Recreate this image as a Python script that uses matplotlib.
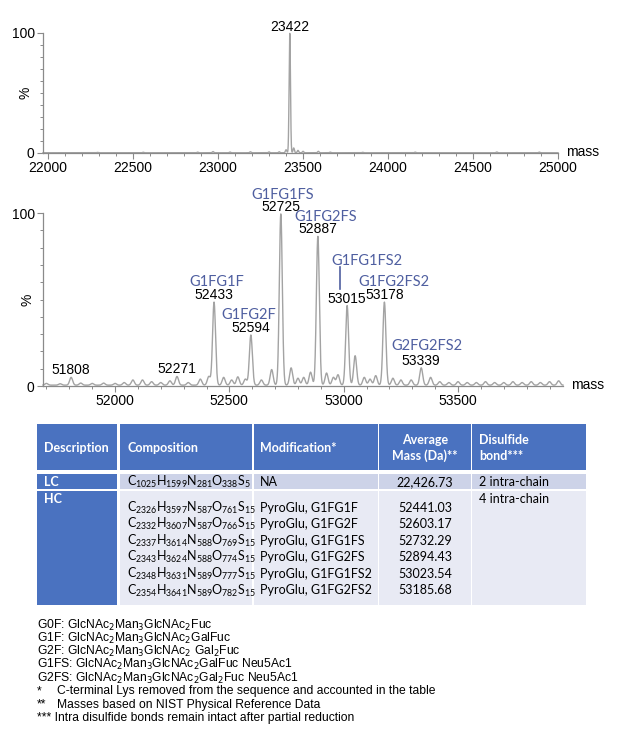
import re
import numpy as np
import matplotlib.pyplot as plt
from matplotlib.patches import Rectangle
from matplotlib.ticker import MultipleLocator, FixedLocator

plt.rcParams['font.family'] = ['Liberation Sans', 'DejaVu Sans']
plt.rcParams['mathtext.fontset'] = 'custom'
plt.rcParams['mathtext.rm'] = 'Lato'
plt.rcParams['mathtext.it'] = 'Lato:italic'
plt.rcParams['mathtext.bf'] = 'Lato:bold'

# light chain (reduced) deconvoluted spectrum: peak centroids / relative intensity (%)
lc_mass = [22290, 22560, 22880, 22970, 23070, 23190, 23300, 23360, 23400, 23422,
           23445, 23470, 23500, 23590, 23660, 23850, 24160, 24640, 24890]
lc_int = [0.3, 0.4, 0.5, 1.0, 0.6, 0.8, 0.7, 0.8, 2.5, 99.5,
          4.0, 2.0, 1.2, 1.2, 0.5, 0.4, 0.5, 0.6, 0.5]
lc_labels = [23422]

# heavy chain deconvoluted spectrum
hc_mass = [51700, 51760, 51808, 51850, 51900, 51950, 52000, 52040, 52078, 52120,
           52160, 52200, 52240, 52271, 52320, 52373, 52410, 52433, 52475, 52510,
           52537, 52570, 52594, 52640, 52685, 52725, 52770, 52800, 52825, 52855,
           52887, 52925, 52955, 52975, 53015, 53050, 53090, 53115, 53140, 53178,
           53215, 53250, 53295, 53339, 53380, 53420, 53460, 53500, 53540, 53580,
           53620, 53660, 53700, 53740, 53780, 53820, 53860, 53900, 53940]
hc_int = [1.0, 0.8, 4.5, 1.2, 1.0, 1.2, 1.0, 1.5, 3.0, 3.0,
          2.0, 1.5, 2.5, 5.0, 1.5, 3.5, 5.0, 48, 4.5, 3.0,
          4.8, 3.5, 29, 3.0, 9.0, 99, 10, 4.0, 4.5, 7.5,
          86, 7.0, 4.5, 6.0, 46, 17, 4.5, 3.5, 5.5, 48,
          4.0, 3.0, 3.0, 10, 4.5, 2.0, 1.5, 2.0, 1.5, 1.5,
          2.0, 1.5, 1.5, 2.0, 1.5, 2.0, 1.5, 2.0, 2.5]
hc_labels = [51808, 52271, 52433, 52594, 52725, 52887, 53015, 53178, 53339]

glyco_names = ['G1FG1F', 'G1FG2F', 'G1FG1FS', 'G1FG2FS', 'G1FG1FS2', 'G1FG2FS2', 'G2FG2FS2']
glyco_mass = [52433, 52594, 52725, 52887, 53015, 53178, 53339]
# label offsets in pixels from the peak apex
glyco_offset = [(3, 20), (-2, 20), (2, 19), (8, 19), (20, 45), (10, 20), (6, 22)]

# table contents
tbl_header = ['Description', 'Composition', 'Modification*', 'Average\nMass (Da)**', 'Disulfide\nbond***']
lc_comp = 'C1025H1599N281O338S5'
lc_mod = 'NA'
lc_avg = '22,426.73'
lc_ss = '2 intra-chain'
hc_comp = ['C2326H3597N587O761S15', 'C2332H3607N587O766S15', 'C2337H3614N588O769S15',
           'C2343H3624N588O774S15', 'C2348H3631N589O777S15', 'C2354H3641N589O782S15']
hc_mod = ['PyroGlu, G1FG1F', 'PyroGlu, G1FG2F', 'PyroGlu, G1FG1FS',
          'PyroGlu, G1FG2FS', 'PyroGlu, G1FG1FS2', 'PyroGlu, G1FG2FS2']
hc_avg = ['52441.03', '52603.17', '52732.29', '52894.43', '53023.54', '53185.68']
hc_ss = '4 intra-chain'

notes = [
    'G0F: GlcNAc$_2$Man$_3$GlcNAc$_2$Fuc',
    'G1F: GlcNAc$_2$Man$_3$GlcNAc$_2$GalFuc',
    'G2F: GlcNAc$_2$Man$_3$GlcNAc$_2$ Gal$_2$Fuc',
    'G1FS: GlcNAc$_2$Man$_3$GlcNAc$_2$GalFuc Neu5Ac1',
    'G2FS: GlcNAc$_2$Man$_3$GlcNAc$_2$Gal$_2$Fuc Neu5Ac1',
]
star_notes = [('*', 'C-terminal Lys removed from the sequence and accounted in the table'),
              ('**', 'Masses based on NIST Physical Reference Data'),
              ('***', 'Intra disulfide bonds remain intact after partial reduction')]

LINE = '#a3a3a3'
SPINE = '#8a8a8a'
BLUE = '#4f5fa0'
HEAD = '#4a72c0'
LC_BG = '#cdd3e8'
HC_BG = '#e8eaf4'

W, H = 640, 746
fig = plt.figure(figsize=(W / 100, H / 100), dpi=100)


def profile(masses, ints, xlo, xhi, sigma, base):
    x = np.linspace(xlo, xhi, 6000)
    y = np.full_like(x, base)
    for m, h in zip(masses, ints):
        y += h * np.exp(-0.5 * ((x - m) / sigma) ** 2)
    return x, y


def style_axes(ax, xlim, major, minor):
    ax.set_xlim(*xlim)
    ax.set_ylim(0, 100)
    for s in ['top', 'right']:
        ax.spines[s].set_visible(False)
    for s in ['left', 'bottom']:
        ax.spines[s].set_color(SPINE)
        ax.spines[s].set_linewidth(0.9)
    ax.xaxis.set_major_locator(MultipleLocator(major))
    ax.xaxis.set_minor_locator(MultipleLocator(minor))
    ax.yaxis.set_major_locator(FixedLocator([0, 100]))
    ax.yaxis.set_minor_locator(MultipleLocator(10))
    ax.tick_params(which='major', length=4, width=0.8, color=SPINE, labelsize=10, pad=2)
    ax.tick_params(which='minor', length=2.5, width=0.7, color=SPINE)
    ax.set_ylabel('%', fontsize=10)
    ax.annotate('mass', xy=(1, 0), xycoords='axes fraction', xytext=(8, 1),
                textcoords='offset pixels', ha='left', va='center', fontsize=10)


def peak_labels(ax, x, y, masses):
    for m in masses:
        ax.annotate(str(m), xy=(m, np.interp(m, x, y)), xytext=(0, 7),
                    textcoords='offset pixels', ha='center', va='center',
                    fontsize=10, annotation_clip=False)


# top panel: light chain
ax1 = fig.add_axes([43 / W, 1 - 153 / H, 515 / W, 120 / H])
x1, y1 = profile(lc_mass, lc_int, 21970, 25000, 4, 0.2)
ax1.plot(x1, y1, color=LINE, lw=1.0, clip_on=False)
style_axes(ax1, (21970, 25000), 500, 100)
ax1.yaxis.set_label_coords(-0.021, 0.5)
peak_labels(ax1, x1, y1, lc_labels)

# middle panel: heavy chain
ax2 = fig.add_axes([43 / W, 1 - 386 / H, 520 / W, 173 / H])
x2, y2 = profile(hc_mass, hc_int, 51685, 53959, 6.5, 0.5)
ax2.plot(x2, y2, color=LINE, lw=1.0, clip_on=False)
style_axes(ax2, (51685, 53959), 500, 100)
ax2.yaxis.set_label_coords(-0.016, 0.5)
peak_labels(ax2, x2, y2, hc_labels)
for name, m, (dx, dy) in zip(glyco_names, glyco_mass, glyco_offset):
    top = np.interp(m, x2, y2)
    ax2.annotate(name, xy=(m, top), xytext=(dx, dy), textcoords='offset pixels',
                 ha='center', va='center', fontsize=10.5, color=BLUE,
                 family='Lato', annotation_clip=False)
    if dy > 30:
        # short leader line between the raised label and its mass value
        px, py = ax2.transData.transform((m, top))
        inv = ax2.transData.inverted()
        p0 = inv.transform((px - 7, py + 17))
        p1 = inv.transform((px - 7, py + 39))
        ax2.plot([p0[0], p1[0]], [p0[1], p1[1]], color=BLUE, lw=1.2)

# table and footnotes, drawn in pixel space
tab = fig.add_axes([0, 0, 1, 1])
tab.set_xlim(0, W)
tab.set_ylim(H, 0)
tab.axis('off')

cols = [(37, 117), (120, 252), (254, 378), (379, 471), (472, 586)]
rows = [(424, 470), (474, 489), (491, 605)]
for ci, (x0, x1c) in enumerate(cols):
    for ri, (r0, r1) in enumerate(rows):
        if ri == 0 or ci == 0:
            c = HEAD
        elif ri == 1:
            c = LC_BG
        else:
            c = HC_BG
        tab.add_patch(Rectangle((x0, r0), x1c - x0, r1 - r0, color=c, lw=0))

tfont = dict(family=['Lato', 'DejaVu Sans'], fontsize=9)
hfont = dict(family=['Lato', 'DejaVu Sans'], fontsize=9, color='white', weight='bold')
text_x = [44, 127, 260, 425, 479]
for i, h in enumerate(tbl_header):
    ha = 'center' if i == 3 else 'left'
    tab.text(text_x[i], 448, h, ha=ha, va='center', linespacing=1.3, multialignment=ha, **hfont)


def formula(s):
    return re.sub(r'(\d+)', r'$_{\1}$', s)


tab.text(44, 486, 'LC', ha='left', va='baseline', **hfont)
tab.text(text_x[1], 486, formula(lc_comp), ha='left', va='baseline', **tfont)
tab.text(text_x[2], 486, lc_mod, ha='left', va='baseline', **tfont)
tab.text(text_x[3], 486, lc_avg, ha='center', va='baseline', **tfont)
tab.text(text_x[4], 486, lc_ss, ha='left', va='baseline', **tfont)

tab.text(44, 503, 'HC', ha='left', va='baseline', **hfont)
tab.text(text_x[4], 503, hc_ss, ha='left', va='baseline', **tfont)
for k in range(len(hc_comp)):
    yb = 511.5 + k * 16.6
    tab.text(text_x[1], yb, formula(hc_comp[k]), ha='left', va='baseline', **tfont)
    tab.text(text_x[2], yb, hc_mod[k], ha='left', va='baseline', **tfont)
    tab.text(text_x[3], yb, hc_avg[k], ha='center', va='baseline', **tfont)

ny = 625
for n in notes:
    tab.text(37, ny, n, ha='left', va='center', fontsize=8.7, math_fontfamily='dejavusans')
    ny += 13.3
for star, n in star_notes:
    if star == '***':
        tab.text(37, ny, star + ' ' + n, ha='left', va='center', fontsize=8.7)
    else:
        tab.text(37, ny, star, ha='left', va='center', fontsize=8.7)
        tab.text(57, ny, n, ha='left', va='center', fontsize=8.7)
    ny += 13.3

fig.savefig('out.png', dpi=100)
